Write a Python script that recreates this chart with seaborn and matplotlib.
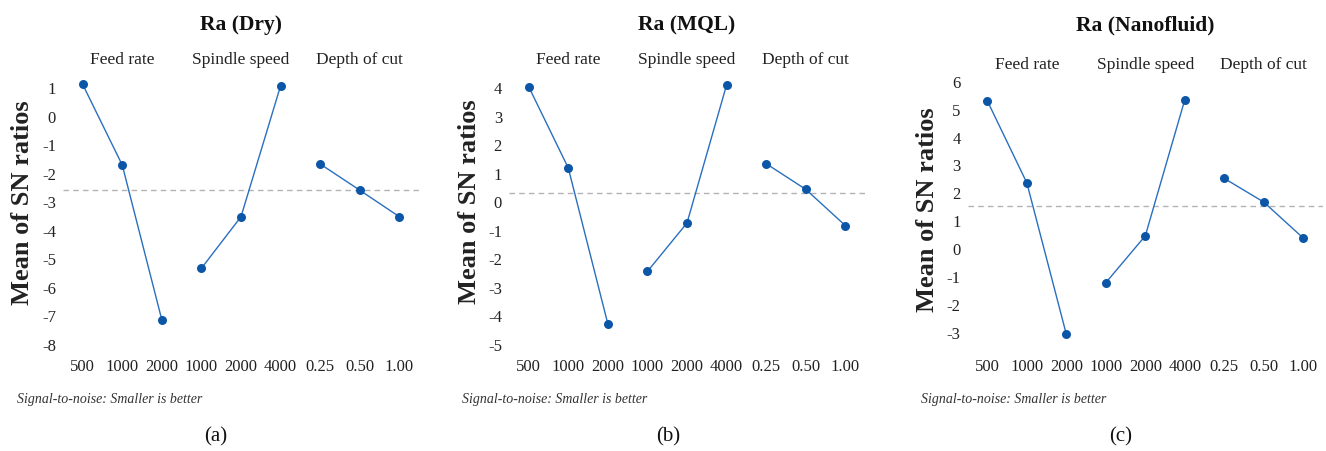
import numpy as np
import pandas as pd
import matplotlib
matplotlib.use("Agg")
import matplotlib.pyplot as plt
import seaborn as sns

# ---------------- data ----------------
factors = ["Feed rate", "Spindle speed", "Depth of cut"]
feed_levels = ["500", "1000", "2000"]
speed_levels = ["1000", "2000", "4000"]
depth_levels = ["0.25", "0.50", "1.00"]

titles = ["Ra (Dry)", "Ra (MQL)", "Ra (Nanofluid)"]
captions = ["(a)", "(b)", "(c)"]

dry_feed = [1.10, -1.73, -7.16]
dry_speed = [-5.35, -3.54, 1.05]
dry_depth = [-1.69, -2.61, -3.54]

mql_feed = [4.02, 1.17, -4.30]
mql_speed = [-2.46, -0.76, 4.08]
mql_depth = [1.32, 0.42, -0.85]

nano_feed = [5.28, 2.34, -3.09]
nano_speed = [-1.24, 0.44, 5.32]
nano_depth = [2.50, 1.65, 0.36]

yticks_dry = [1, 0, -1, -2, -3, -4, -5, -6, -7, -8]
yticks_mql = [4, 3, 2, 1, 0, -1, -2, -3, -4, -5]
yticks_nano = [6, 5, 4, 3, 2, 1, 0, -1, -2, -3]

footnote = "Signal-to-noise: Smaller is better"
ylabel = "Mean of SN ratios"

# ---------------- styling ----------------
sns.set_theme(style="white")
plt.rcParams["font.family"] = ["Liberation Serif", "DejaVu Serif"]

W, H = 1326, 452
fig = plt.figure(figsize=(W / 100, H / 100), dpi=100)

line_color = "#2a6fbf"
marker_color = "#0b56a6"

panels = [
    dict(vals=[dry_feed, dry_speed, dry_depth], yticks=yticks_dry,
         left=62.9, right=419.1, ylim=(-8.25, 1.5),
         ylab_x=23, ylab_y=203, foot_x=17, cap_x=216, fac_y=60),
    dict(vals=[mql_feed, mql_speed, mql_depth], yticks=yticks_mql,
         left=508.9, right=865.1, ylim=(-5.25, 4.5),
         ylab_x=469.5, ylab_y=202, foot_x=462, cap_x=668, fac_y=60),
    dict(vals=[nano_feed, nano_speed, nano_depth], yticks=yticks_nano,
         left=967.6, right=1323.0, ylim=(-3.69, 6.28),
         ylab_x=927, ylab_y=210, foot_x=921, cap_x=1121, fac_y=65),
]

ax_top, ax_bot = 74, 352
all_levels = [feed_levels, speed_levels, depth_levels]

for i, p in enumerate(panels):
    ax = fig.add_axes([p["left"] / W, 1 - ax_bot / H,
                       (p["right"] - p["left"]) / W, (ax_bot - ax_top) / H])
    rows = []
    pos = 0
    for f, levels, vals in zip(factors, all_levels, p["vals"]):
        for lev, v in zip(levels, vals):
            rows.append(dict(factor=f, level=lev, pos=pos, value=v))
            pos += 1
    df = pd.DataFrame(rows)

    grand_mean = df["value"].mean()
    ax.axhline(grand_mean, color="#b3b3b3", lw=1.0, ls=(0, (4, 3)), zorder=1)

    sns.lineplot(data=df, x="pos", y="value", hue="factor",
                 palette=[line_color] * 3, legend=False, ax=ax,
                 lw=1.0, zorder=2, estimator=None, sort=False)
    sns.scatterplot(data=df, x="pos", y="value", color=marker_color,
                    s=42, marker="o", edgecolor=marker_color, linewidth=0,
                    ax=ax, zorder=3, legend=False)

    ax.set_xlim(-0.5, 8.5)
    ax.set_ylim(*p["ylim"])
    ax.set_xticks(df["pos"])
    ax.set_xticklabels(df["level"], fontsize=12)
    ax.set_yticks(p["yticks"])
    ax.set_yticklabels([str(t) for t in p["yticks"]], fontsize=12)
    ax.tick_params(axis="both", length=0, colors="#222222")
    ax.tick_params(axis="x", pad=5)
    ax.tick_params(axis="y", pad=5)
    ax.set_xlabel("")
    ax.set_ylabel("")
    for s in ax.spines.values():
        s.set_visible(False)
    ax.grid(False)
    ax.set_facecolor("none")

    # facet labels
    for j, f in enumerate(factors):
        cx = df.loc[df["factor"] == f, "pos"].mean()
        ax.text(cx, 1 - (p["fac_y"] - ax_top) / (ax_bot - ax_top), f,
                transform=ax.get_xaxis_transform(), ha="center", va="center",
                fontsize=12.5, color="#222222")

    center_x = (p["left"] + p["right"]) / 2
    fig.text(center_x / W, 1 - 25 / H, titles[i], ha="center", va="center",
             fontsize=15.5, fontweight="bold", color="#111111")
    fig.text(p["ylab_x"] / W, 1 - p["ylab_y"] / H, ylabel, rotation=90,
             ha="center", va="center", fontsize=19, fontweight="bold",
             color="#222222")
    fig.text(p["foot_x"] / W, 1 - 400 / H, footnote, ha="left", va="center",
             fontsize=10, style="italic", color="#333333")
    fig.text(p["cap_x"] / W, 1 - 437 / H, captions[i], ha="center",
             va="center", fontsize=15, color="#111111")

fig.savefig("out.png", dpi=100, facecolor="white")
